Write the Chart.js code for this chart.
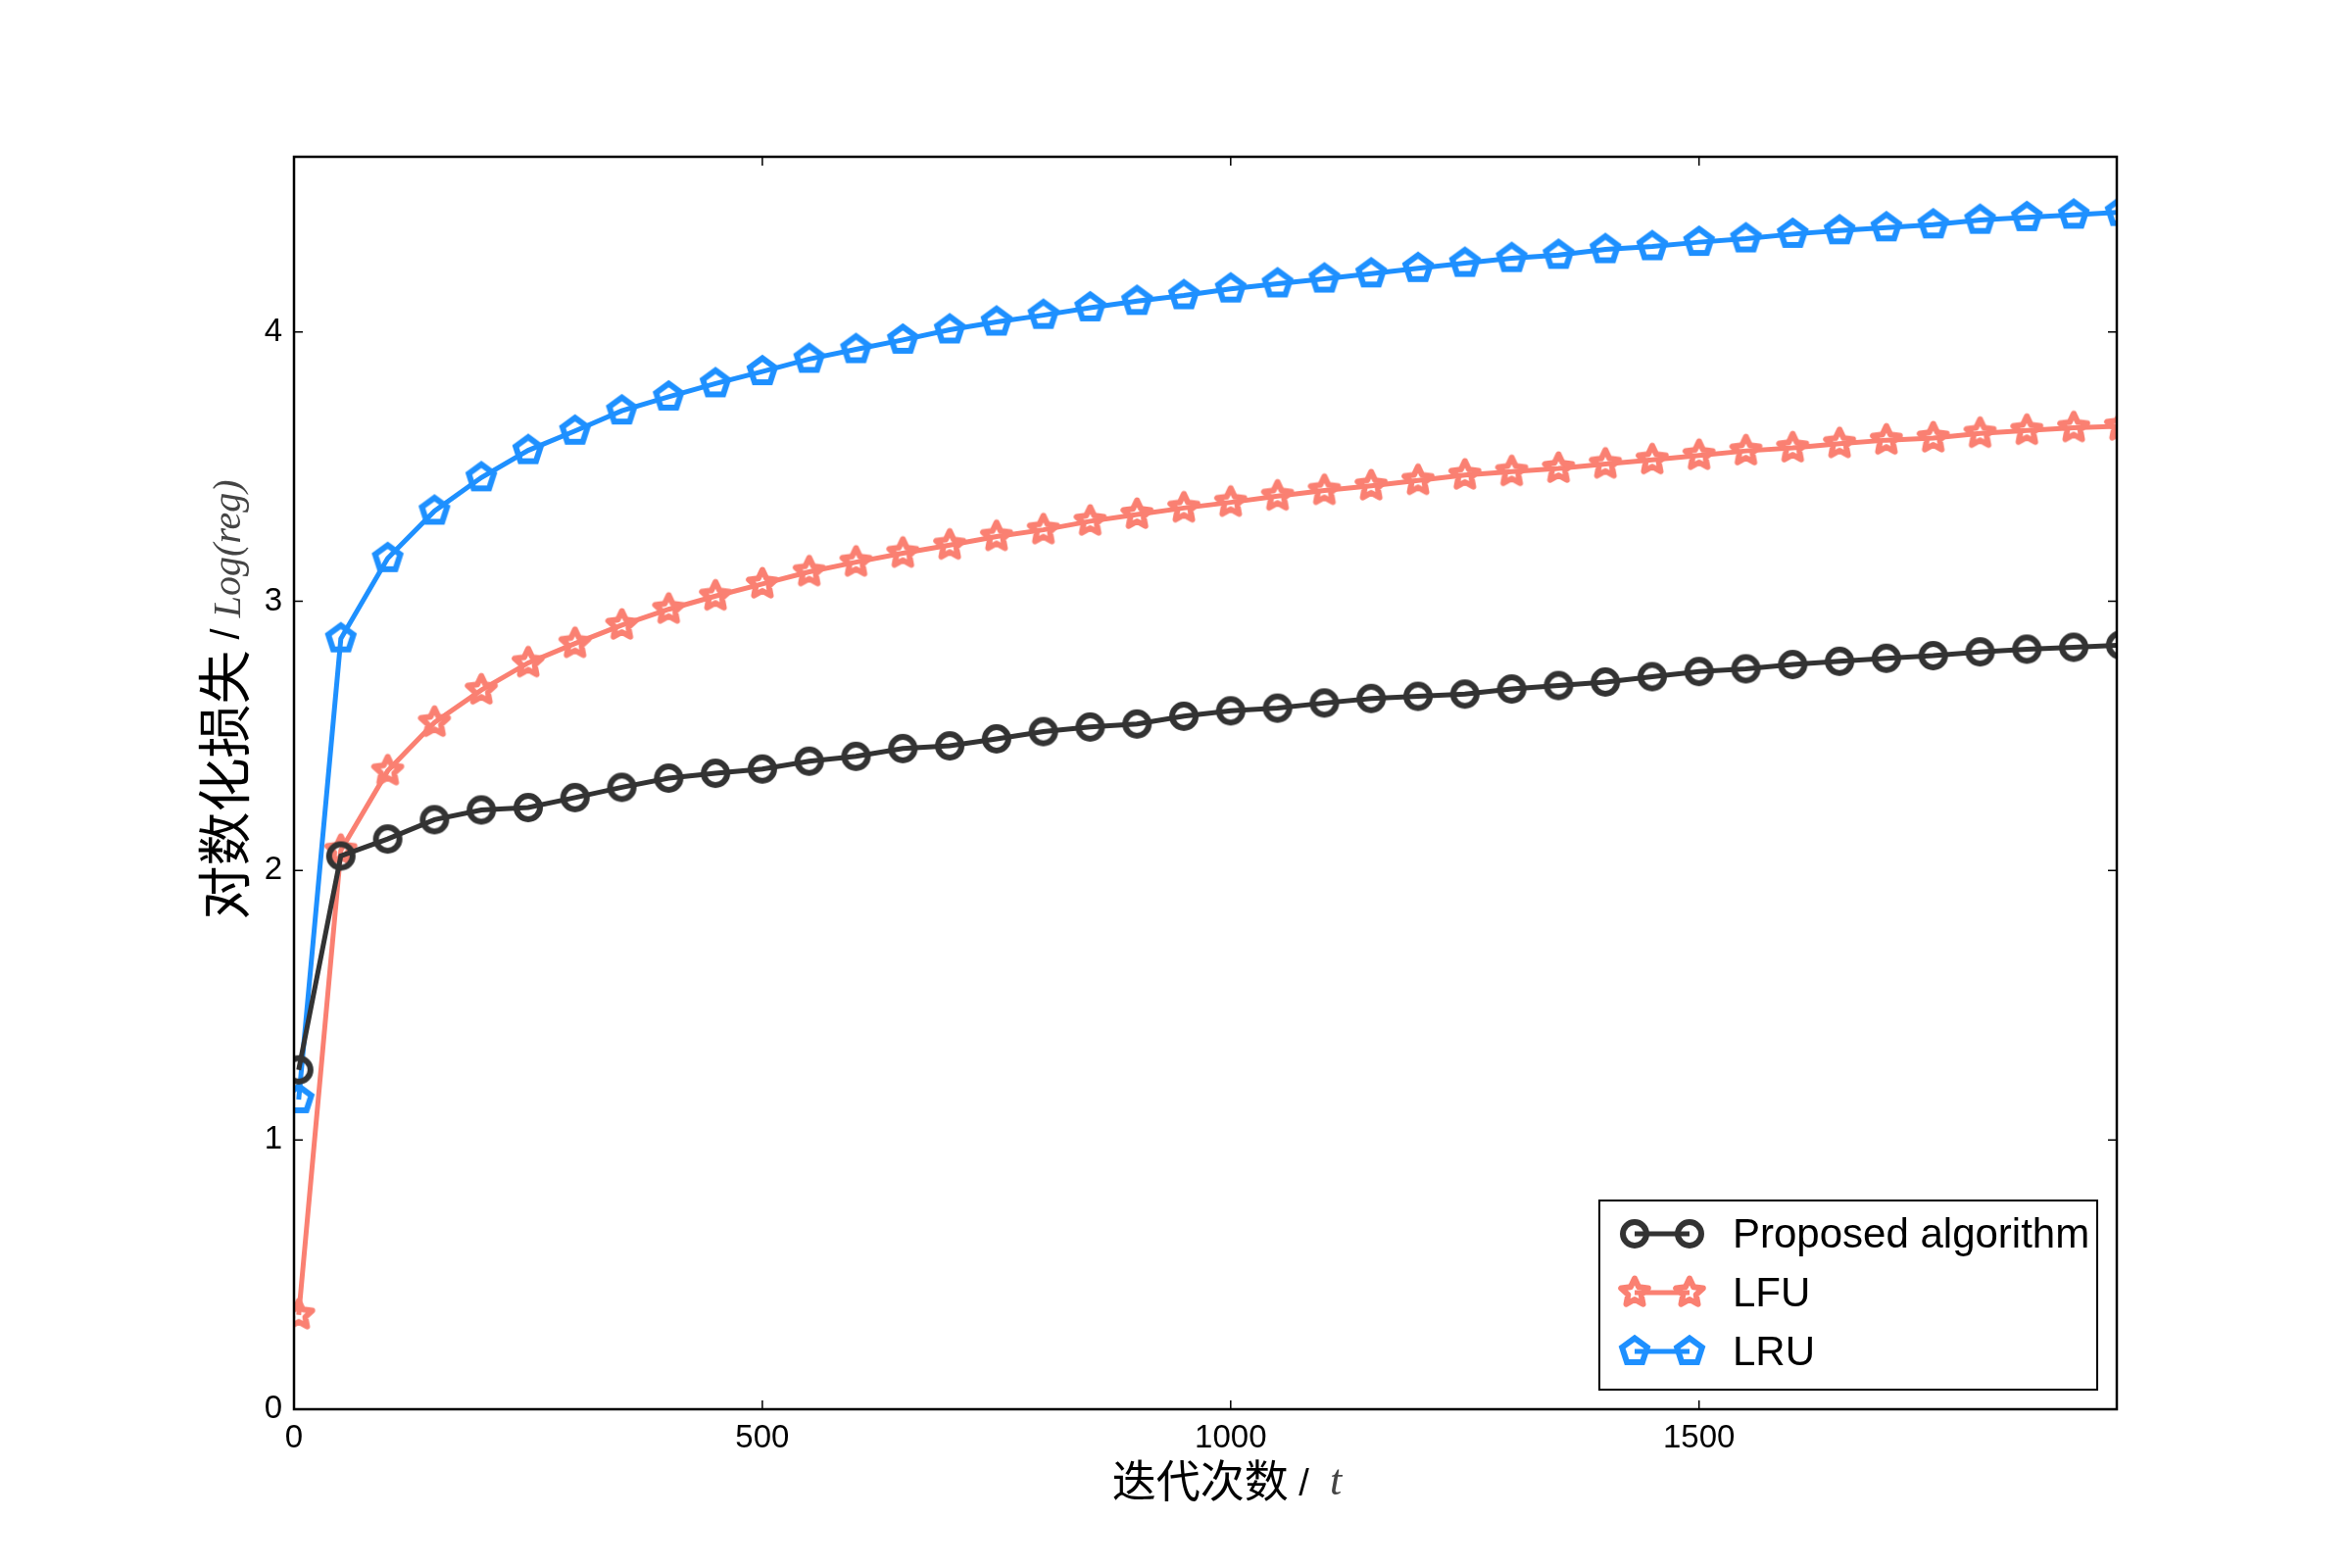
<!DOCTYPE html>
<html lang="zh">
<head>
<meta charset="utf-8">
<title>对数化损失 - 迭代次数</title>
<script src="https://cdn.jsdelivr.net/npm/chart.js@4/dist/chart.umd.min.js"></script>
<style>
  html, body { margin: 0; padding: 0; background: #fff; }
  canvas { display: block; }
</style>
</head>
<body>
<canvas id="regret-chart" width="2400" height="1600"></canvas>
<script>
// ============================================
// 数据
// ============================================

const iterations = [5, 50, 100, 150, 200, 250, 300, 350, 400, 450,
  500, 550, 600, 650, 700, 750, 800, 850, 900, 950,
  1000, 1050, 1100, 1150, 1200, 1250, 1300, 1350, 1400, 1450,
  1500, 1550, 1600, 1650, 1700, 1750, 1800, 1850, 1900, 1950];

const proposedLog = [1.26, 2.054, 2.117, 2.189, 2.225, 2.234, 2.271, 2.309, 2.343, 2.361,
  2.377, 2.406, 2.424, 2.453, 2.463, 2.489, 2.516, 2.533, 2.544, 2.573,
  2.593, 2.603, 2.622, 2.639, 2.647, 2.655, 2.674, 2.687, 2.700, 2.720,
  2.739, 2.749, 2.765, 2.777, 2.788, 2.798, 2.812, 2.822, 2.829, 2.837];

const lfuLog = [0.35, 2.075, 2.37, 2.55, 2.67, 2.771, 2.843, 2.911, 2.97, 3.019,
  3.064, 3.109, 3.145, 3.178, 3.208, 3.240, 3.265, 3.297, 3.322, 3.346,
  3.367, 3.390, 3.411, 3.428, 3.448, 3.468, 3.481, 3.493, 3.509, 3.525,
  3.541, 3.558, 3.569, 3.585, 3.598, 3.606, 3.623, 3.634, 3.644, 3.650];

const lruLog = [1.15, 2.861, 3.159, 3.335, 3.459, 3.56, 3.632, 3.707, 3.759, 3.808,
  3.853, 3.899, 3.935, 3.970, 4.008, 4.037, 4.062, 4.090, 4.114, 4.135,
  4.160, 4.179, 4.197, 4.216, 4.236, 4.255, 4.273, 4.285, 4.306, 4.317,
  4.333, 4.346, 4.363, 4.376, 4.387, 4.398, 4.415, 4.425, 4.434, 4.444];

const seriesNames = ['Proposed algorithm', 'LFU', 'LRU'];
const xTicks = [0, 500, 1000, 1500];
const yTicks = [0, 1, 2, 3, 4];

// ============================================
// 样式
// ============================================

const COLOR_PROPOSED = '#333333';
const COLOR_LFU = '#FA8072';
const COLOR_LRU = '#1E90FF';
const TICK_FONT = '"Liberation Sans", Arial, sans-serif';
const CJK_FONT = '"Noto Sans CJK SC", sans-serif';
const MATH_FONT = '"Liberation Serif", "DejaVu Serif", serif';
const MARKER_BOX = 52;

function makeMarker(draw) {
  const c = document.createElement('canvas');
  c.width = MARKER_BOX;
  c.height = MARKER_BOX;
  draw(c.getContext('2d'), MARKER_BOX / 2, MARKER_BOX / 2);
  return c;
}

const starMarker = makeMarker((g, cx, cy) => {
  g.beginPath();
  for (let k = 0; k < 10; k++) {
    const r = k % 2 === 0 ? 14.5 : 7;
    const a = -Math.PI / 2 + k * Math.PI / 5;
    g.lineTo(cx + r * Math.cos(a), cy + r * Math.sin(a));
  }
  g.closePath();
  g.strokeStyle = COLOR_LFU;
  g.lineWidth = 6;
  g.lineJoin = 'round';
  g.stroke();
});

const pentagonMarker = makeMarker((g, cx, cy) => {
  g.beginPath();
  for (let k = 0; k < 5; k++) {
    const a = -Math.PI / 2 + k * 2 * Math.PI / 5;
    g.lineTo(cx + 13.5 * Math.cos(a), cy + 13.5 * Math.sin(a));
  }
  g.closePath();
  g.strokeStyle = COLOR_LRU;
  g.lineWidth = 6;
  g.lineJoin = 'miter';
  g.stroke();
});

const circleMarker = makeMarker((g, cx, cy) => {
  g.beginPath();
  g.arc(cx, cy, 12, 0, Math.PI * 2);
  g.strokeStyle = COLOR_PROPOSED;
  g.lineWidth = 6;
  g.stroke();
});

function toPoints(values) {
  return iterations.map((x, i) => ({ x, y: values[i] }));
}

function makeDataset(label, values, color, marker) {
  return {
    label,
    data: toPoints(values),
    borderColor: color,
    backgroundColor: color,
    borderWidth: 5,
    tension: 0,
    pointStyle: marker,
    pointRadius: 13,
    pointHoverRadius: 13,
    clip: 0,
    marker
  };
}

// ============================================
// 插件: 边框, 内向刻度, 坐标轴标题, 图例
// ============================================

const frameTicks = {
  id: 'frameTicks',
  afterDatasetsDraw(chart) {
    const { ctx, chartArea: a, scales } = chart;
    const len = 9;
    ctx.save();
    ctx.strokeStyle = '#000';
    ctx.lineWidth = 1.5;
    ctx.beginPath();
    scales.x.ticks.forEach(t => {
      const px = scales.x.getPixelForValue(t.value);
      ctx.moveTo(px, a.bottom); ctx.lineTo(px, a.bottom - len);
      ctx.moveTo(px, a.top); ctx.lineTo(px, a.top + len);
    });
    scales.y.ticks.forEach(t => {
      const py = scales.y.getPixelForValue(t.value);
      ctx.moveTo(a.left, py); ctx.lineTo(a.left + len, py);
      ctx.moveTo(a.right, py); ctx.lineTo(a.right - len, py);
    });
    ctx.stroke();
    ctx.lineWidth = 2.5;
    ctx.strokeRect(a.left, a.top, a.right - a.left, a.bottom - a.top);
    ctx.restore();
  }
};

// 混合字体标题: 中文 + 数学斜体
function drawMixed(ctx, parts, cx, baseline) {
  let total = 0;
  parts.forEach(p => { ctx.font = p.font; p.w = ctx.measureText(p.text).width; total += p.w; });
  let x = cx - total / 2;
  parts.forEach(p => {
    ctx.font = p.font;
    ctx.fillStyle = p.color || '#000';
    ctx.fillText(p.text, x, baseline + (p.dy || 0));
    x += p.w;
  });
}

const axisTitles = {
  id: 'axisTitles',
  afterDraw(chart) {
    const { ctx } = chart;
    ctx.save();
    ctx.textAlign = 'left';
    ctx.textBaseline = 'alphabetic';
    // x 轴标题
    drawMixed(ctx, [
      { text: '迭代次数', font: `45px ${CJK_FONT}` },
      { text: ' /  ', font: `38px ${TICK_FONT}`, dy: -2 },
      { text: 't', font: `italic 44px ${MATH_FONT}`, color: '#444', dy: -3 }
    ], 1252, 1528);
    // y 轴标题
    ctx.translate(228, 714);
    ctx.rotate(-Math.PI / 2);
    drawMixed(ctx, [
      { text: '对数化损失', font: `55px ${CJK_FONT}` },
      { text: ' / ', font: `40px ${TICK_FONT}`, dy: -5 },
      { text: 'Log(reg)', font: `italic 40px ${MATH_FONT}`, color: '#444', dy: -4 }
    ], 0, 21);
    ctx.restore();
  }
};

const boxLegend = {
  id: 'boxLegend',
  afterDraw(chart) {
    const { ctx, chartArea: a } = chart;
    const right = a.right - 20;
    const bottom = a.bottom - 20;
    const w = 508, h = 193;
    const left = right - w, top = bottom - h;
    ctx.save();
    ctx.fillStyle = '#fff';
    ctx.fillRect(left, top, w, h);
    ctx.strokeStyle = '#000';
    ctx.lineWidth = 2;
    ctx.strokeRect(left, top, w, h);
    chart.data.datasets.forEach((ds, i) => {
      const y = top + 34 + i * 60;
      const x0 = left + 36, x1 = left + 92;
      ctx.strokeStyle = ds.borderColor;
      ctx.lineWidth = ds.borderWidth;
      ctx.beginPath();
      ctx.moveTo(x0, y);
      ctx.lineTo(x1, y);
      ctx.stroke();
      [x0, x1].forEach(px => ctx.drawImage(ds.marker, px - MARKER_BOX / 2, y - MARKER_BOX / 2));
      ctx.fillStyle = '#000';
      ctx.font = `42px ${TICK_FONT}`;
      ctx.textBaseline = 'middle';
      ctx.fillText(seriesNames[i], left + 136, y + 2);
    });
    ctx.restore();
  }
};

// ============================================
// 图表
// ============================================

const ctx = document.getElementById('regret-chart').getContext('2d');
new Chart(ctx, {
  type: 'line',
  data: {
    datasets: [
      makeDataset(seriesNames[0], proposedLog, COLOR_PROPOSED, circleMarker),
      makeDataset(seriesNames[1], lfuLog, COLOR_LFU, starMarker),
      makeDataset(seriesNames[2], lruLog, COLOR_LRU, pentagonMarker)
    ]
  },
  options: {
    responsive: false,
    devicePixelRatio: 1,
    animation: false,
    layout: { padding: { left: 240, right: 240, top: 160, bottom: 102 } },
    scales: {
      x: {
        type: 'linear',
        min: 0,
        max: 1946,
        afterBuildTicks: s => { s.ticks = xTicks.map(v => ({ value: v })); },
        afterFit: s => { s.height = 60; },
        grid: { display: false },
        border: { display: false },
        ticks: {
          font: { family: TICK_FONT, size: 33 },
          color: '#000',
          padding: 2,
          maxRotation: 0,
          autoSkip: false,
          callback: v => String(v)
        }
      },
      y: {
        type: 'linear',
        min: 0,
        max: 4.65,
        afterBuildTicks: s => { s.ticks = yTicks.map(v => ({ value: v })); },
        afterFit: s => { s.width = 60; },
        grid: { display: false },
        border: { display: false },
        ticks: {
          font: { family: TICK_FONT, size: 33 },
          color: '#000',
          padding: 4,
          callback: v => String(v)
        }
      }
    },
    plugins: {
      legend: { display: false },
      tooltip: { enabled: false }
    }
  },
  plugins: [frameTicks, axisTitles, boxLegend]
});
</script>
</body>
</html>
